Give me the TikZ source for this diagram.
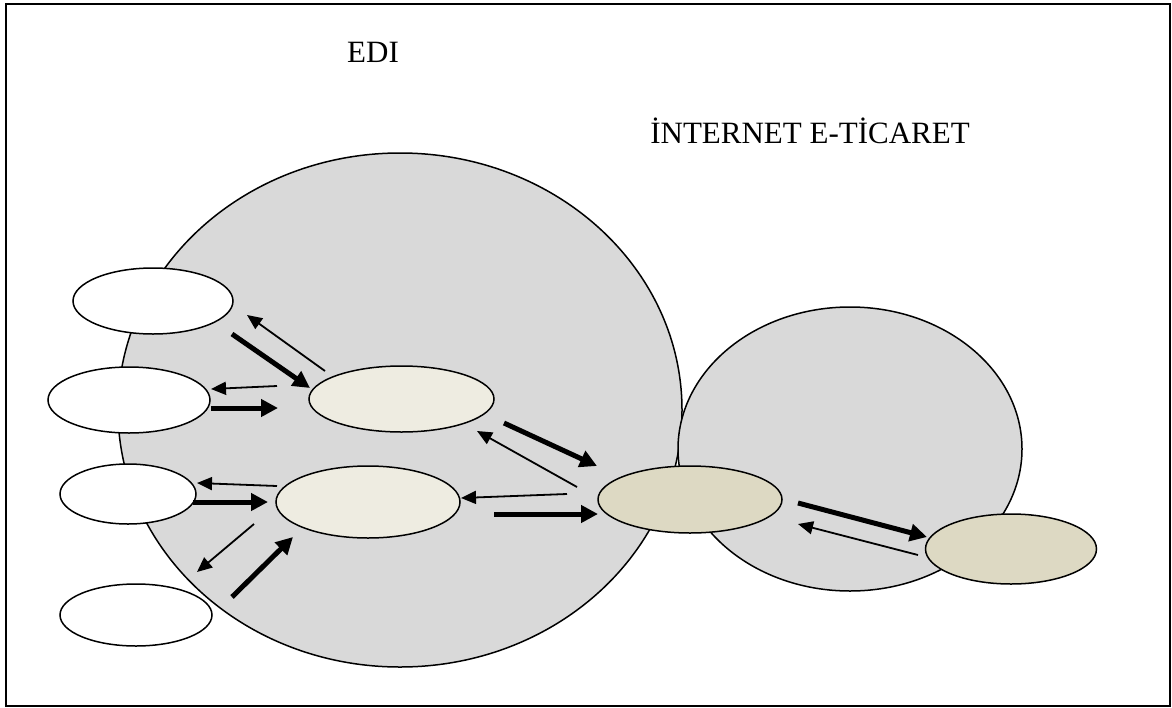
\documentclass[tikz,border=0pt]{standalone}
\usepackage{fontspec}
\setmainfont{Liberation Serif}
\usetikzlibrary{arrows.meta}
\definecolor{zonegray}{HTML}{D9D9D9}
\definecolor{paleBeige}{HTML}{EEECE1}
\definecolor{darkBeige}{HTML}{DDD9C3}
\tikzset{
  zone/.style={draw=black, line width=1.5pt, fill=zonegray},
  party/.style={draw=black, line width=1.5pt, fill=white},
  hubA/.style={draw=black, line width=1.5pt, fill=paleBeige},
  hubB/.style={draw=black, line width=1.5pt, fill=darkBeige},
  thinarrow/.style={line width=1.8pt, -{Triangle[length=15pt,width=13pt]}},
  thickarrow/.style={line width=5pt, -{Triangle[length=17pt,width=17pt]}},
  title/.style={font=\fontsize{31}{37}\selectfont, anchor=base, inner sep=0pt}
}
\begin{document}
\begin{tikzpicture}[x=1pt,y=-1pt]
\useasboundingbox (0,0) rectangle (1172,707);
% outer frame
\draw[line width=1.6pt] (6,4) rectangle (1170,706);

% labels
\node[title] (edi) at (373,62) {EDI};
\node[title] (inet) at (810,143) {İNTERNET E-TİCARET};

% the two zones
\draw[zone] (400,410) ellipse [x radius=282, y radius=257];
\draw[zone] (850,449) ellipse [x radius=172, y radius=142];

% outside parties
\draw[party] (153,301) ellipse [x radius=80, y radius=33];
\draw[party] (129,400) ellipse [x radius=81, y radius=33];
\draw[party] (128,494) ellipse [x radius=68, y radius=30];
\draw[party] (136,615) ellipse [x radius=76, y radius=31];

% hubs
\draw[hubA] (401.5,399) ellipse [x radius=92.5, y radius=33];
\draw[hubA] (368,502) ellipse [x radius=92, y radius=36];
\draw[hubB] (690,499.5) ellipse [x radius=92, y radius=33.5];
\draw[hubB] (1011,549) ellipse [x radius=85.5, y radius=35];

% arrow end points
\coordinate (a1s) at (325,371); \coordinate (a1e) at (247,315);
\coordinate (a2s) at (232,334); \coordinate (a2e) at (310,388);
\coordinate (a3s) at (277,386); \coordinate (a3e) at (211,389);
\coordinate (a4s) at (211,408); \coordinate (a4e) at (278,408);
\coordinate (a5s) at (277,486); \coordinate (a5e) at (197,483);
\coordinate (a6s) at (193,502); \coordinate (a6e) at (268,502);
\coordinate (a7s) at (254,524); \coordinate (a7e) at (197,572);
\coordinate (a8s) at (232,597); \coordinate (a8e) at (293,537);
\coordinate (b1s) at (504,423); \coordinate (b1e) at (597,466);
\coordinate (b2s) at (577,487); \coordinate (b2e) at (477,431);
\coordinate (b3s) at (567,494); \coordinate (b3e) at (461,498);
\coordinate (b4s) at (494,514); \coordinate (b4e) at (598,514);
\coordinate (c1s) at (798,503); \coordinate (c1e) at (927,537);
\coordinate (c2s) at (918,555); \coordinate (c2e) at (798,524);

% flows
\draw[thinarrow]  (a1s) -- (a1e);
\draw[thickarrow] (a2s) -- (a2e);
\draw[thinarrow]  (a3s) -- (a3e);
\draw[thickarrow] (a4s) -- (a4e);
\draw[thinarrow]  (a5s) -- (a5e);
\draw[thickarrow] (a6s) -- (a6e);
\draw[thinarrow]  (a7s) -- (a7e);
\draw[thickarrow] (a8s) -- (a8e);
\draw[thickarrow] (b1s) -- (b1e);
\draw[thinarrow]  (b2s) -- (b2e);
\draw[thinarrow]  (b3s) -- (b3e);
\draw[thickarrow] (b4s) -- (b4e);
\draw[thickarrow] (c1s) -- (c1e);
\draw[thinarrow]  (c2s) -- (c2e);
\end{tikzpicture}
\end{document}
